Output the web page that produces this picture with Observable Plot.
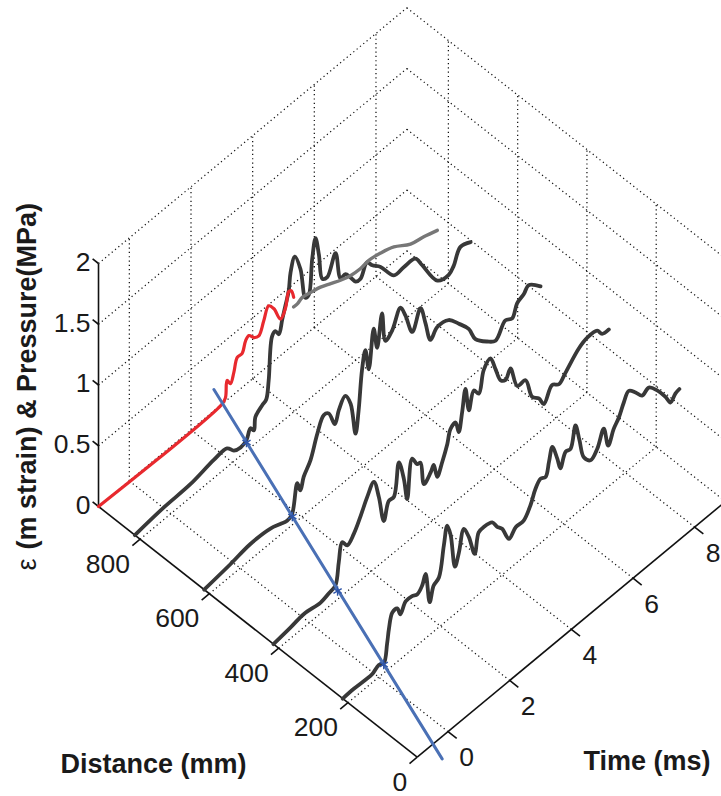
<!DOCTYPE html>
<html><head><meta charset="utf-8">
<script src="https://cdn.jsdelivr.net/npm/d3@7"></script>
<script src="https://cdn.jsdelivr.net/npm/@observablehq/plot@0.6"></script>
<style>body{margin:0;background:#fff} svg{display:block;background:#fff}</style>
</head><body><div id="chart"></div>
<script>
// ---------- data ----------
const distanceTicks = [0, 200, 400, 600, 800];
const distanceTickLabels = ["0", "200", "400", "600", "800"];
const timeTicks = [0, 2, 4, 6, 8];
const timeTickLabels = ["0", "2", "4", "6", "8"];
const valueTicks = [0, 0.5, 1, 1.5, 2];
const valueTickLabels = ["0", "0.5", "1", "1.5", "2"];
const distMax = 920, timeMin = -1, timeMax = 9, valueMax = 2;

const gaugeDistances = [815, 615, 415, 215];
const arrivalTimes = [2.62, 1.86, 1.08, 0.33];
const pressureDistance = 920;
const frontDistances = [958, -40];
const frontTimes = [3.17, -0.64];

const gauge1Time = [-1, -0.06, 0.80, 1.56, 1.99, 2.21, 2.43, 2.62, 2.75, 2.86, 2.91, 3.13, 3.26, 3.34, 3.45, 3.56, 3.67, 3.78, 3.88, 3.99, 4.05, 4.19, 4.37, 4.53, 4.64, 4.75, 4.86, 4.97, 5.08, 5.24, 5.51, 5.67, 5.83, 5.99, 6.16, 6.32, 6.53, 6.70, 6.97, 7.40, 7.72, 8.10, 8.32, 8.81, 9.18, 9.34, 9.56, 9.89];
const gauge1Strain = [0, 0.03, 0.04, 0.08, 0.085, 0.02, 0.0, 0.02, 0.09, 0.05, 0.15, 0.20, 0.22, 0.36, 0.70, 0.72, 0.67, 0.77, 0.86, 0.96, 1.10, 1.20, 1.06, 0.79, 0.79, 1.06, 1.21, 1.05, 0.83, 0.81, 0.95, 0.71, 0.71, 0.65, 0.58, 0.57, 0.66, 0.60, 0.53, 0.37, 0.37, 0.36, 0.26, 0.03, 0.0, 0.04, 0.15, 0.12];

const gauge2Time = [-1, -0.15, 0.50, 1.15, 1.47, 1.69, 1.85, 2.02, 2.12, 2.23, 2.45, 2.67, 2.88, 3.04, 3.24, 3.37, 3.58, 3.75, 3.91, 4.01, 4.12, 4.23, 4.34, 4.50, 4.61, 4.77, 4.88, 5.10, 5.37, 5.53, 5.75, 6.02, 6.18, 6.34, 6.56, 6.93, 7.26, 7.58, 7.80, 8.18, 8.45, 8.77, 8.99, 9.15, 9.37, 9.53, 9.91];
const gauge2Strain = [0, 0.03, 0.06, 0.05, 0.02, 0.0, 0.02, 0.24, 0.16, 0.25, 0.34, 0.51, 0.62, 0.60, 0.47, 0.56, 0.63, 0.53, 0.25, 0.42, 0.73, 0.87, 0.69, 0.99, 0.81, 1.06, 0.81, 0.85, 0.98, 0.88, 0.70, 0.84, 0.68, 0.51, 0.57, 0.55, 0.45, 0.34, 0.21, 0.11, 0.06, 0.16, 0.13, 0.22, 0.25, 0.29, 0.20];

const gauge3Time = [-1, -0.45, -0.01, 0.53, 0.80, 1.01, 1.12, 1.23, 1.39, 1.61, 1.83, 2.04, 2.26, 2.42, 2.58, 2.74, 2.91, 3.07, 3.23, 3.34, 3.50, 3.66, 3.77, 3.88, 4.10, 4.20, 4.31, 4.48, 4.64, 4.74, 4.91, 5.01, 5.12, 5.23, 5.34, 5.50, 5.66, 5.82, 6.04, 6.20, 6.37, 6.53, 6.69, 6.91, 7.18, 7.39, 7.61, 7.77, 8.04, 8.26, 8.47, 8.91, 9.18, 9.50, 9.66, 9.88];
const gauge3Strain = [0, 0.02, 0.04, 0.02, 0.04, 0.06, 0.23, 0.37, 0.31, 0.36, 0.46, 0.57, 0.65, 0.49, 0.26, 0.39, 0.39, 0.64, 0.47, 0.28, 0.58, 0.50, 0.49, 0.29, 0.34, 0.38, 0.26, 0.35, 0.46, 0.56, 0.58, 0.48, 0.62, 0.79, 0.59, 0.72, 0.66, 0.82, 0.87, 0.75, 0.62, 0.59, 0.65, 0.46, 0.45, 0.27, 0.21, 0.13, 0.23, 0.19, 0.24, 0.35, 0.38, 0.37, 0.31, 0.30];

const gauge4Time = [-1, -0.64, -0.26, -0.04, 0.17, 0.33, 0.44, 0.50, 0.61, 0.77, 0.87, 1.04, 1.25, 1.42, 1.58, 1.69, 1.82, 1.95, 2.12, 2.28, 2.39, 2.50, 2.64, 2.77, 2.93, 3.09, 3.28, 3.41, 3.58, 3.85, 4.01, 4.17, 4.39, 4.61, 4.87, 5.09, 5.25, 5.42, 5.58, 5.69, 5.80, 5.96, 6.06, 6.23, 6.39, 6.55, 6.68, 6.82, 7.04, 7.26, 7.47, 7.61, 7.79, 7.96, 8.12, 8.28, 8.50, 8.71, 8.93, 9.20, 9.47, 9.63, 9.79, 9.92];
const gauge4Strain = [0, 0.005, 0, 0, 0.03, 0.01, 0.15, 0.26, 0.37, 0.37, 0.30, 0.37, 0.37, 0.35, 0.39, 0.46, 0.20, 0.31, 0.34, 0.57, 0.71, 0.61, 0.32, 0.41, 0.57, 0.47, 0.29, 0.44, 0.45, 0.43, 0.36, 0.31, 0.18, 0.23, 0.23, 0.31, 0.41, 0.46, 0.44, 0.54, 0.64, 0.51, 0.41, 0.51, 0.50, 0.66, 0.51, 0.34, 0.27, 0.32, 0.44, 0.27, 0.37, 0.43, 0.52, 0.58, 0.52, 0.45, 0.47, 0.39, 0.28, 0.20, 0.24, 0.25];

const pressureTime = [-1, 3.01, 3.12, 3.17, 3.28, 3.39, 3.50, 3.66, 3.77, 3.88, 4.04, 4.20, 4.36, 4.52, 4.69, 4.90, 5.07, 5.17, 5.25, 5.33];
const pressureValue = [0, 0, 0.03, 0.16, 0.11, 0.18, 0.28, 0.28, 0.36, 0.38, 0.33, 0.31, 0.40, 0.49, 0.43, 0.30, 0.36, 0.47, 0.46, 0.39];

const decayTime = [5.33, 5.45, 5.61, 5.93, 6.20, 6.53, 6.85, 7.17, 7.50, 7.77, 8.15, 8.58, 9.12, 9.55, 9.99];
const decayValue = [0.31, 0.31, 0.33, 0.31, 0.29, 0.25, 0.21, 0.18, 0.17, 0.18, 0.16, 0.12, 0.03, 0.0, -0.04];

// ---------- projection of the 3-D view onto the page ----------
const view = {ox: 416.7, oy: 756.7, dX: -0.3464, dY: -0.2725, tX: 30.83, tY: -25.57, vY: -121.5};
const PX = (d, t, v) => view.ox + view.dX * d + view.tX * (t - timeMin);
const PY = (d, t, v) => view.oy + view.dY * d + view.tY * (t - timeMin) + view.vY * v;

function series(dist, times, values) {
  return times.map((t, i) => ({x: PX(dist, t, values[i]), y: PY(dist, t, values[i])}));
}
function seg(a, b) {
  return {x1: PX(...a), y1: PY(...a), x2: PX(...b), y2: PY(...b)};
}

// grid
const grid = [];
distanceTicks.filter(d => d > 0).forEach(d => grid.push(seg([d, timeMin, 0], [d, timeMax, 0])));
timeTicks.forEach(t => grid.push(seg([0, t, 0], [distMax, t, 0])));
timeTicks.forEach(t => grid.push(seg([distMax, t, 0], [distMax, t, valueMax])));
valueTicks.forEach(v => grid.push(seg([distMax, timeMin, v], [distMax, timeMax, v])));
distanceTicks.forEach(d => grid.push(seg([d, timeMax, 0], [d, timeMax, valueMax])));
valueTicks.forEach(v => grid.push(seg([0, timeMax, v], [distMax, timeMax, v])));

// axes and ticks
const axes = [
  seg([distMax, timeMin, 0], [distMax, timeMin, valueMax]),
  seg([0, timeMin, 0], [distMax, timeMin, 0]),
  seg([0, timeMin, 0], [0, timeMax, 0])
];
const ticks = [];
valueTicks.forEach(v => ticks.push(seg([distMax, timeMin, v], [distMax + 17, timeMin, v])));
distanceTicks.forEach(d => ticks.push(seg([d, timeMin, 0], [d, timeMin - 0.25, 0])));
timeTicks.forEach(t => ticks.push(seg([0, t, 0], [-25, t, 0])));

const font = "Liberation Sans, Arial, Helvetica, sans-serif";
const lineColor = "#383838";

const curves = [
  [gauge1Time, gauge1Strain], [gauge2Time, gauge2Strain],
  [gauge3Time, gauge3Strain], [gauge4Time, gauge4Strain]
];

const marks = [
  Plot.link(grid, {x1: "x1", y1: "y1", x2: "x2", y2: "y2", stroke: "#111", strokeWidth: 1.25, strokeDasharray: "1.2 3.1"}),
  Plot.link(axes, {x1: "x1", y1: "y1", x2: "x2", y2: "y2", stroke: "#111", strokeWidth: 1.6}),
  Plot.link(ticks, {x1: "x1", y1: "y1", x2: "x2", y2: "y2", stroke: "#111", strokeWidth: 1.6}),
  ...curves.map((c, i) => Plot.line(series(gaugeDistances[i], c[0], c[1]), {x: "x", y: "y", stroke: lineColor, strokeWidth: 3.8, curve: "catmull-rom"})),
  Plot.line(series(pressureDistance, pressureTime, pressureValue), {x: "x", y: "y", stroke: "#e8292e", strokeWidth: 3.2, curve: "catmull-rom"}),
  Plot.line(series(pressureDistance, decayTime, decayValue), {x: "x", y: "y", stroke: "#777", strokeWidth: 3.4, curve: "catmull-rom"}),
  Plot.line(frontDistances.map((d, i) => ({x: PX(d, frontTimes[i], 0), y: PY(d, frontTimes[i], 0)})), {x: "x", y: "y", stroke: "#4a70b5", strokeWidth: 3}),
  Plot.dot(gaugeDistances.map((d, i) => ({x: PX(d, arrivalTimes[i], 0), y: PY(d, arrivalTimes[i], 0)})), {x: "x", y: "y", symbol: "asterisk", r: 4.5, stroke: "#2f55a8", strokeWidth: 1.4}),
  // tick labels
  Plot.text(valueTicks, {x: v => PX(distMax, timeMin, v), y: v => PY(distMax, timeMin, v), text: (v, i) => valueTickLabels[i], textAnchor: "end", dx: -8, dy: -1, fontSize: 26.5, fontFamily: font, fill: "#1a1a1a"}),
  Plot.text(distanceTicks, {x: d => PX(d, timeMin, 0), y: d => PY(d, timeMin, 0), text: (d, i) => distanceTickLabels[i], textAnchor: "end", dx: -10, dy: 25, fontSize: 26.5, fontFamily: font, fill: "#1a1a1a"}),
  Plot.text(timeTicks, {x: t => PX(0, t, 0), y: t => PY(0, t, 0), text: (t, i) => timeTickLabels[i], textAnchor: "middle", dx: 18.5, dy: 26, fontSize: 26.5, fontFamily: font, fill: "#1a1a1a"}),
  // axis titles
  Plot.text(["Distance (mm)"], {x: () => 60, y: () => 764, text: d => d, textAnchor: "start", fontSize: 27, fontWeight: "bold", fontFamily: font, fill: "#1a1a1a"}),
  Plot.text(["Time (ms)"], {x: () => 583, y: () => 761, text: d => d, textAnchor: "start", fontSize: 27, fontWeight: "bold", fontFamily: font, fill: "#1a1a1a"}),
  Plot.text(["ε"], {x: () => 26.5, y: () => 570, text: d => d, rotate: -90, textAnchor: "start", fontSize: 27, fontFamily: font, fill: "#1a1a1a"}),
  Plot.text(["(m strain) & Pressure(MPa)"], {x: () => 26.5, y: () => 549, text: d => d, rotate: -90, textAnchor: "start", fontSize: 27, fontWeight: "bold", fontFamily: font, fill: "#1a1a1a"})
];

const chart = Plot.plot({
  width: 721, height: 796, margin: 0,
  x: {domain: [0, 721], range: [0, 721], axis: null},
  y: {domain: [0, 796], range: [0, 796], axis: null},
  style: {background: "#fff", overflow: "visible"},
  marks
});
document.getElementById("chart").appendChild(chart);
</script>
</body></html>
